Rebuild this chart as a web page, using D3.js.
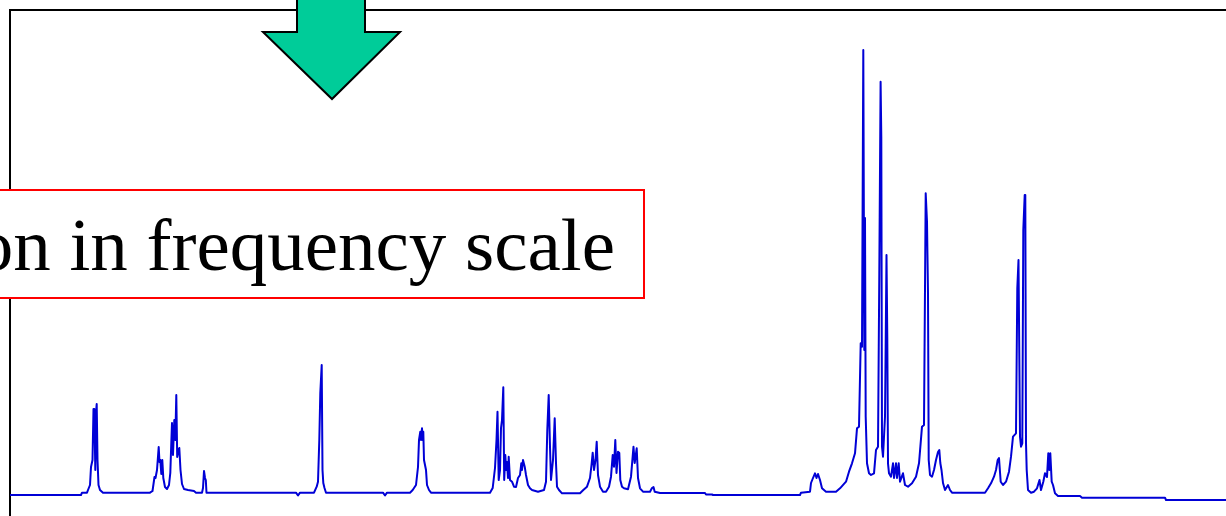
<!DOCTYPE html>
<html>
<head>
<meta charset="utf-8">
<script src="https://cdn.jsdelivr.net/npm/d3@7"></script>
<style>
  html, body { margin: 0; padding: 0; background: #fff; overflow: hidden; }
  svg { display: block; }
</style>
</head>
<body>
<script>
// Spectrum: channel (frequency axis) and intensity above the baseline
const channel = [
  10, 81, 82, 87, 88, 90, 91, 92.5, 93.5, 94.3, 95.3, 96.2, 96.7, 97.5, 98.5, 100, 103,
  150, 152.5, 153.5, 154.5, 155.5, 157, 158.7, 159.5, 160.3, 161.3, 162.3, 163.3, 165, 167, 169,
  170.3, 171.3, 172, 173, 174.3, 175.3, 176.3, 177.2, 178.5, 179.3, 180.5, 182, 184, 188, 194, 196,
  202, 203, 204, 205, 205.8, 206.5,
  296, 298, 300, 314, 316.7, 318, 319.3, 320.3, 321.7, 322.5, 323.3, 324.5, 326,
  383, 385, 387, 410, 412.7, 416, 418, 419, 420.3, 421, 422, 422.6, 423.3, 424, 425, 426, 427, 429, 431,
  490, 492.7, 495, 496.5, 497.5, 498.7, 500, 501, 502, 503.3, 504.2, 505.3, 506.2, 507, 508, 508.7,
  510, 512, 514, 516, 518, 520, 521.3, 522, 523, 524.7, 526, 528, 530, 532, 538, 544, 546, 547.3,
  548.7, 550, 551, 553, 554.7, 556, 557, 559, 562,
  580, 583.3, 587, 590, 591.5, 592.7, 594, 595.5, 596.7, 598, 600, 603, 606, 609, 611, 612.7, 614,
  615.3, 616.5, 618, 619.3, 620.3, 622, 624, 628, 631, 633.5, 634.7, 636.7, 638, 640, 643, 650,
  652, 653.5, 654.7, 660, 705, 706, 712, 713,
  800, 801, 810, 811, 813, 815, 816.5, 818, 820, 822, 826, 836, 840, 846, 849, 852, 855, 857, 859,
  860.7, 862, 863.3, 864.3, 865, 865.7, 867, 869, 871, 874, 876, 878, 879.3, 880.6, 881.3, 882, 883,
  885, 886.5, 887.3, 888, 889, 891, 893, 894, 896, 897, 898.7, 900, 903, 905, 908, 912, 916, 919,
  922, 924, 925.7, 927, 928, 928.7, 930, 932, 934, 936, 938, 939.3, 940.3, 941.5, 943, 945, 948, 950, 952,
  985, 988, 991, 994, 996, 997.7, 999, 1000.7, 1003, 1006, 1009, 1011, 1013, 1016, 1017.3, 1018.5,
  1020, 1021, 1022.3, 1023.3, 1024.7, 1025.3, 1026, 1026.7, 1028, 1031, 1034, 1037, 1039.5, 1041,
  1043.3, 1045, 1047, 1048.3, 1049.3, 1050.3, 1051.7, 1053, 1055, 1058, 1080, 1082, 1165, 1166, 1226
];
const intensity = [
  0, 0, 2.3, 2.3, 5, 10, 28, 35, 86, 86, 25, 85, 91, 35, 10, 5, 2.3,
  2.3, 4, 11, 18, 17, 25, 48, 33, 35, 21, 35, 17, 8, 6, 10,
  22, 52, 72, 40, 75, 55, 100, 38, 45, 47, 25, 11, 6, 5, 4, 2.3,
  2.3, 7, 24, 17, 15, 2.3,
  2.3, -0.5, 2.3, 2.3, 8.3, 13.3, 55, 102, 130, 25, 12, 7, 2.3,
  2.3, -0.5, 2.3, 2.3, 5, 10, 28, 55, 63.3, 55, 66.7, 55, 63.3, 35, 30, 25, 10, 5, 2.3,
  2.3, 7, 27, 55, 83.3, 15, 25, 67, 75, 107.7, 15, 40, 25, 33, 17, 38.3,
  15, 13.3, 8.3, 8, 17, 20, 31.7, 25, 35, 28.3, 20, 10, 6.7, 5, 3.3, 5, 13.3, 65,
  100, 48.3, 15, 35, 76.7, 32, 8.3, 5, 1.7,
  1.7, 5, 8.3, 17, 30, 42.3, 25, 35, 53.3, 20, 8.3, 3.3, 3.3, 8.3, 18.3, 40, 28.3,
  55, 22, 43.3, 42, 15, 8.3, 6.7, 5.7, 18.3, 48.3, 32, 46.7, 17, 6.7, 3.3, 3.3,
  7, 8, 3.3, 2, 2, 0.5, 0.5, 0,
  0, 2.3, 3.3, 12, 17, 21.7, 17, 21, 15, 6.7, 3.3, 3.3, 6.7, 13.3, 23.3, 31.7, 41.7, 66.7, 68.3,
  151.7, 148.3, 445, 145, 277, 78.3, 31.7, 21.7, 20, 21.7, 45, 48.3, 221.7, 413.3, 358.3, 48.3, 38.3,
  78.3, 240, 156.7, 31.7, 21.7, 18.3, 31.7, 17, 31.7, 17, 31.7, 13.3, 21.7, 10, 8.3, 11.7, 18.3, 31.7,
  68.3, 70, 301.7, 273.3, 201.7, 35, 20, 18.3, 25, 35, 43, 45, 32, 25, 12, 5, 10, 5, 2.3,
  2.3, 6.7, 11.7, 18.3, 25, 35, 37, 13.3, 10, 13.3, 23.3, 38.3, 58.3, 61.7, 206.7, 235,
  58.3, 48.3, 51.7, 265, 300, 300, 51.7, 25, 5, 2.3, 3.3, 6.7, 15, 5,
  13.3, 21.7, 18, 41.7, 25, 41.7, 13.3, 10, 1.7, -1, -1, -2.7, -2.7, -5, -5
];

const annotationText = ["on in frequency scale"];

const W = 1226, H = 516;
const svg = d3.select("body").append("svg").attr("width", W).attr("height", H);

// scales
const x = d3.scaleLinear().domain([0, 1226]).range([0, 1226]);
const y = d3.scaleLinear().domain([0, 450]).range([495, 45]);

// chart frame (extends past the window to the right and bottom)
svg.append("rect")
  .attr("x", 10).attr("y", 10)
  .attr("width", 1400).attr("height", 700)
  .attr("fill", "none").attr("stroke", "#000").attr("stroke-width", 2);

// spectrum
const pts = channel.map((c, i) => [c, intensity[i]]);
const line = d3.line().x(d => x(d[0])).y(d => y(d[1]));
svg.append("path")
  .datum(pts)
  .attr("d", line)
  .attr("fill", "none")
  .attr("stroke", "#0000d6")
  .attr("stroke-width", 2)
  .attr("stroke-linejoin", "round");

// annotation box
svg.append("rect")
  .attr("x", -10).attr("y", 190)
  .attr("width", 654).attr("height", 108)
  .attr("fill", "#fff").attr("stroke", "#ff0000").attr("stroke-width", 2);
svg.append("text")
  .attr("x", 615).attr("y", 270)
  .attr("text-anchor", "end")
  .attr("font-family", "'Liberation Serif', 'Times New Roman', serif")
  .attr("font-size", 75)
  .attr("fill", "#000")
  .text(annotationText[0]);

// green down arrow
const arrow = [[297, -5], [365, -5], [365, 32], [400, 32], [332, 99], [263, 32], [297, 32]];
svg.append("path")
  .attr("d", d3.line()(arrow) + "Z")
  .attr("fill", "#00cc99")
  .attr("stroke", "#000")
  .attr("stroke-width", 2)
  .attr("stroke-linejoin", "miter");
</script>
</body>
</html>
